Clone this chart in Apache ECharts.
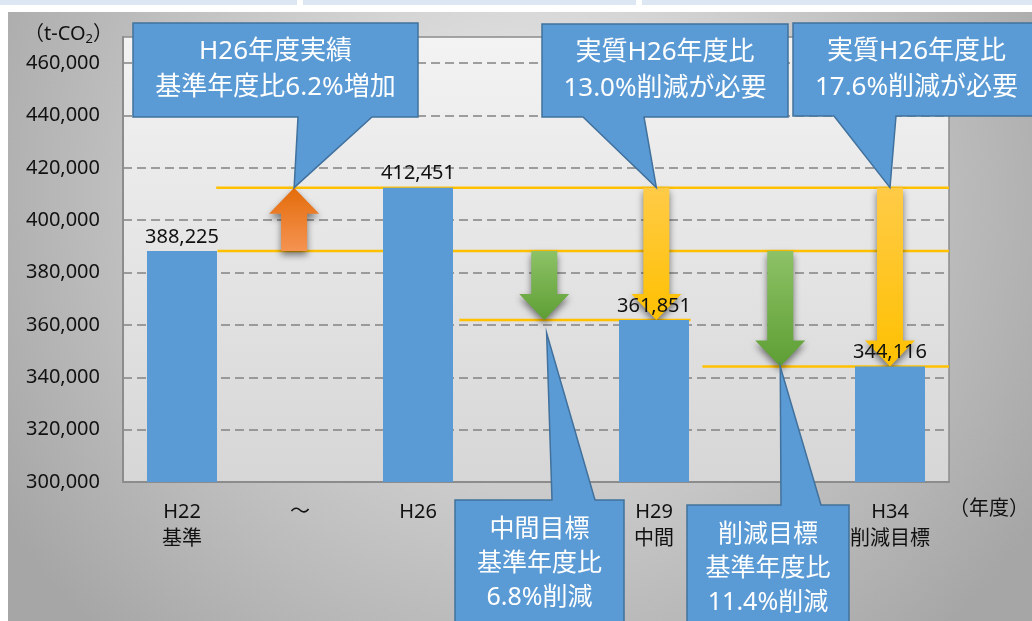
<!DOCTYPE html>
<html>
<head>
<meta charset="utf-8">
<script src="https://cdn.jsdelivr.net/npm/echarts@6/dist/echarts.min.js"></script>
<style>
html, body { margin: 0; padding: 0; background: #fff; }
#chart { width: 1032px; height: 621px; }
</style>
</head>
<body>
<div id="chart"></div>
<script>
// 年度と排出量（t-CO2）
var categories = ['H22\n基準', '～', 'H26', '', 'H29\n中間', '', 'H34\n削減目標'];
var emissions = [388225, null, 412451, null, 361851, null, 344116];
var yMin = 300000, yMax = 470000, yStep = 20000;

// 基準線：開始位置, 終了位置（カテゴリ軸 0〜7）, 値
var lineStart = [0.79, 0.80, 2.85, 4.91];
var lineEnd = [7, 7, 4.81, 7];
var lineValue = [412451, 388225, 361851, 344116];

// 矢印：位置, 始点の値, 終点の値, 種類
var arrowPos = [1.45, 3.57, 4.52, 5.57, 6.50];
var arrowFrom = [388225, 388225, 412451, 388225, 412451];
var arrowTo = [412451, 361851, 361851, 344116, 344116];
var arrowKind = ['orange', 'green', 'yellow', 'green', 'yellow'];

// 吹き出し
var calloutText = [
    'H26年度実績\n基準年度比6.2%増加',
    '実質H26年度比\n13.0%削減が必要',
    '実質H26年度比\n17.6%削減が必要',
    '中間目標\n基準年度比\n6.8%削減',
    '削減目標\n基準年度比\n11.4%削減'
];
var calloutTipPos = [1.45, 4.52, 6.50, 3.59, 5.57];
var calloutTipValue = [412451, 412451, 412451, 356900, 344116];

var FONT = '"Noto Sans", "Noto Sans CJK JP", sans-serif';

// 吹き出しの箱（ピクセル）
var calloutBox = [
    {l: 133, t: 23, r: 418, b: 117, bl: 298, br: 372, fs: 26, lh: 36},
    {l: 542, t: 24, r: 788, b: 117, bl: 583, br: 644, fs: 26, lh: 36},
    {l: 793, t: 23, r: 1040, b: 116, bl: 834, br: 896, fs: 26, lh: 36},
    {l: 455, t: 500, r: 624, b: 640, bl: 552, br: 595, fs: 25, lh: 34},
    {l: 687, t: 505, r: 849, b: 640, bl: 781, br: 821, fs: 25, lh: 34}
];

function grad(c0, c1) {
    return new echarts.graphic.LinearGradient(0, 0, 0, 1, [
        {offset: 0, color: c0}, {offset: 1, color: c1}
    ]);
}
var arrowFill = {
    orange: grad('#E46C0A', '#F59352'),
    green: grad('#8DC266', '#5E9E34'),
    yellow: grad('#FFCB47', '#FFC000')
};

function renderLevel(params, api) {
    var a = api.coord([api.value(0), api.value(2)]);
    var b = api.coord([api.value(1), api.value(2)]);
    return {
        type: 'line',
        shape: {x1: a[0], y1: a[1], x2: b[0], y2: b[1]},
        style: {stroke: '#FFC000', lineWidth: 2.5}
    };
}

function renderArrow(params, api) {
    var p0 = api.coord([api.value(0), api.value(1)]);
    var p1 = api.coord([api.value(0), api.value(2)]);
    var dir = p1[1] < p0[1] ? -1 : 1;
    var cx = p0[0], sw = 13, hw = 25, hl = 26;
    var hb = p1[1] - dir * hl;
    var pts = [[cx - sw, p0[1]], [cx - sw, hb], [cx - hw, hb], [cx, p1[1]],
               [cx + hw, hb], [cx + sw, hb], [cx + sw, p0[1]]];
    return {
        type: 'polygon',
        shape: {points: pts},
        style: {
            fill: arrowFill[arrowKind[params.dataIndex]],
            shadowBlur: 7, shadowOffsetY: 4, shadowColor: 'rgba(0,0,0,0.5)'
        }
    };
}

function renderCallout(params, api) {
    var i = params.dataIndex;
    var b = calloutBox[i];
    var tip = api.coord([api.value(0), api.value(1)]);
    var pts;
    if (tip[1] > b.b) {
        pts = [[b.l, b.t], [b.r, b.t], [b.r, b.b], [b.br, b.b], tip, [b.bl, b.b], [b.l, b.b]];
    } else {
        pts = [[b.l, b.t], [b.bl, b.t], tip, [b.br, b.t], [b.r, b.t], [b.r, b.b], [b.l, b.b]];
    }
    var lines = calloutText[i].split('\n').length;
    var ty = i < 3 ? (b.t + b.b) / 2 : b.t + 30 + (lines - 1) * b.lh / 2;
    return {
        type: 'group',
        children: [
            {type: 'polygon', shape: {points: pts},
             style: {fill: '#5B9BD5', stroke: '#41719C', lineWidth: 1.5}},
            {type: 'text', x: (b.l + b.r) / 2, y: ty,
             style: {text: calloutText[i], fill: '#ffffff', fontSize: b.fs,
                      fontFamily: FONT, align: 'center', verticalAlign: 'middle',
                      lineHeight: b.lh}}
        ]
    };
}

var levelData = lineValue.map(function (v, i) { return [lineStart[i], lineEnd[i], v]; });
var arrowData = arrowPos.map(function (x, i) { return [x, arrowFrom[i], arrowTo[i]]; });
var calloutData = calloutTipPos.map(function (x, i) { return [x, calloutTipValue[i]]; });

var chart = echarts.init(document.getElementById('chart'));
chart.setOption({
    animation: false,
    backgroundColor: '#ffffff',
    graphic: [
        {type: 'rect', z: -100, shape: {x: 0, y: 0, width: 1032, height: 5}, style: {fill: '#DDE7F3'}},
        {type: 'rect', z: -99, shape: {x: 297, y: 0, width: 6, height: 5}, style: {fill: '#ffffff'}},
        {type: 'rect', z: -99, shape: {x: 636, y: 0, width: 6, height: 5}, style: {fill: '#ffffff'}},
        {type: 'rect', z: -100, shape: {x: 8, y: 12, width: 1024, height: 609},
         style: {fill: new echarts.graphic.RadialGradient(0.5, 0.3, 1.0, [
             {offset: 0, color: '#eeeeee'}, {offset: 1, color: '#a6a6a6'}])}}
    ],
    grid: {
        left: 123, right: 80, top: 37, bottom: 139,
        show: true, borderColor: '#8c8c8c', borderWidth: 1.5,
        backgroundColor: grad('#f3f3f3', '#d6d6d6')
    },
    xAxis: [{
        type: 'category',
        data: categories,
        name: '（年度）',
        nameLocation: 'end',
        nameGap: 0,
        nameTextStyle: {color: '#111', fontSize: 20, fontFamily: FONT, align: 'left',
                        verticalAlign: 'top', padding: [17, 0, 0, 0]},
        axisLine: {lineStyle: {color: '#8c8c8c', width: 2}},
        axisTick: {show: false},
        axisLabel: {interval: 0, margin: 17, color: '#111', fontSize: 20,
                    lineHeight: 27, fontFamily: FONT}
    }, {
        type: 'value', min: 0, max: 7, show: false
    }],
    yAxis: {
        type: 'value',
        min: yMin, max: yMax, interval: yStep,
        name: '（t-CO{s|2}）',
        nameLocation: 'end',
        nameGap: 3,
        nameTextStyle: {color: '#111', fontSize: 20, fontFamily: FONT, align: 'right',
                        verticalAlign: 'middle', padding: [0, 10, 0, 0],
                        rich: {s: {fontSize: 13, fontFamily: FONT, color: '#111', padding: [10, 0, 0, 0]}}},
        axisLine: {show: true, lineStyle: {color: '#8c8c8c', width: 2}},
        axisTick: {show: false},
        axisLabel: {showMaxLabel: false, margin: 23, color: '#111', fontSize: 20, fontFamily: FONT,
                    formatter: function (v) { return echarts.format.addCommas(v); }},
        splitLine: {show: true, showMinLine: false, showMaxLine: false,
                    lineStyle: {color: '#828282', width: 1.5, type: [9, 5]}}
    },
    series: [{
        type: 'custom',
        xAxisIndex: 1,
        z: 1,
        clip: false,
        renderItem: renderLevel,
        data: levelData
    }, {
        type: 'custom',
        xAxisIndex: 1,
        z: 2,
        clip: false,
        renderItem: renderArrow,
        data: arrowData
    }, {
        type: 'bar',
        xAxisIndex: 0,
        z: 3,
        barWidth: 70,
        data: emissions,
        itemStyle: {color: '#5B9BD5'},
        label: {show: true, position: 'top', distance: 4, color: '#111', fontSize: 20,
                fontFamily: FONT,
                formatter: function (p) { return echarts.format.addCommas(p.value); }}
    }, {
        type: 'custom',
        xAxisIndex: 1,
        z: 10,
        clip: false,
        renderItem: renderCallout,
        data: calloutData
    }]
});
</script>
</body>
</html>
